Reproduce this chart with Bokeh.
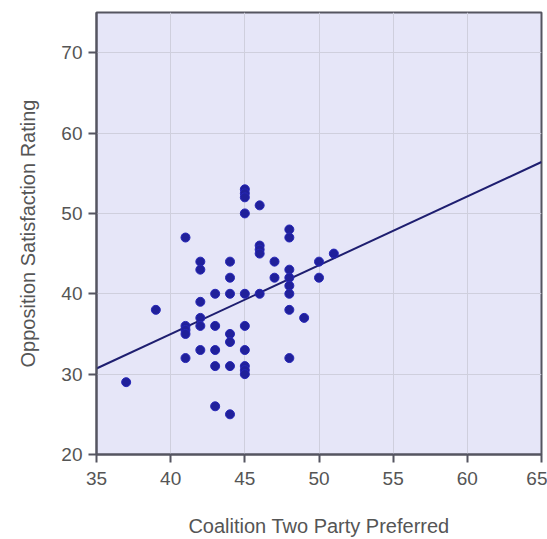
from bokeh.plotting import figure
from bokeh.models import FixedTicker, Range1d, ColumnDataSource
from bokeh.embed import file_html
from bokeh.resources import INLINE

# Data
coalition_2pp = [37, 39, 41, 41, 41, 41, 41,
                 42, 42, 42, 42, 42, 42,
                 43, 43, 43, 43, 43,
                 44, 44, 44, 44, 44, 44, 44,
                 45, 45, 45, 45, 45, 45, 45, 45, 45, 45,
                 46, 46, 46, 46, 46,
                 47, 47,
                 48, 48, 48, 48, 48, 48, 48, 48,
                 49, 50, 50, 51]
opposition_sat = [29, 38, 47, 36, 35.5, 35, 32,
                  44, 43, 39, 37, 36, 33,
                  40, 36, 33, 31, 26,
                  44, 42, 40, 35, 34, 31, 25,
                  53, 52.5, 52, 50, 40, 36, 33, 31, 30.5, 30,
                  51, 46, 45.5, 45, 40,
                  44, 42,
                  48, 47, 43, 42, 41, 40, 38, 32,
                  37, 44, 42, 45]
trend_x = [35, 65]
trend_y = [30.7, 56.4]
x_ticks = [35, 40, 45, 50, 55, 60, 65]
y_ticks = [20, 30, 40, 50, 60, 70]

p = figure(frame_width=445, frame_height=442,
           min_border_left=96, min_border_right=6,
           min_border_top=12, min_border_bottom=85,
           x_range=Range1d(35, 65), y_range=Range1d(20, 75),
           output_backend="svg", toolbar_location=None,
           background_fill_color="#e6e6f8", border_fill_color="white")

p.line(trend_x, trend_y, line_color="#1e1e70", line_width=2)
src = ColumnDataSource(dict(x=coalition_2pp, y=opposition_sat))
p.scatter("x", "y", source=src, size=9, fill_color="#20209a",
          line_color="#2626b8", line_width=1)

p.outline_line_color = "#555560"
p.outline_line_width = 2

for g in (p.xgrid, p.ygrid):
    g.grid_line_color = "#cfcfdd"
    g.grid_line_width = 1

p.xaxis.ticker = FixedTicker(ticks=x_ticks)
p.yaxis.ticker = FixedTicker(ticks=y_ticks)
p.xaxis.minor_tick_line_color = None
p.yaxis.minor_tick_line_color = None

for ax in (p.xaxis, p.yaxis):
    ax.axis_line_color = "#555560"
    ax.axis_line_width = 2
    ax.major_tick_line_color = "#555560"
    ax.major_tick_line_width = 2
    ax.major_tick_out = 8
    ax.major_tick_in = 0
    ax.major_label_text_font = "Liberation Sans"
    ax.major_label_text_font_size = "19px"
    ax.major_label_text_color = "#555555"
    ax.axis_label_text_font = "Liberation Sans"
    ax.axis_label_text_font_size = "20px"
    ax.axis_label_text_font_style = "normal"
    ax.axis_label_text_color = "#555555"

p.xaxis.axis_label = "Coalition Two Party Preferred"
p.yaxis.axis_label = "Opposition Satisfaction Rating"
p.xaxis.major_label_standoff = 9
p.yaxis.major_label_standoff = 6
p.xaxis.axis_label_standoff = 27
p.yaxis.axis_label_standoff = 19

open("out.html", "w").write(file_html(p, INLINE))
